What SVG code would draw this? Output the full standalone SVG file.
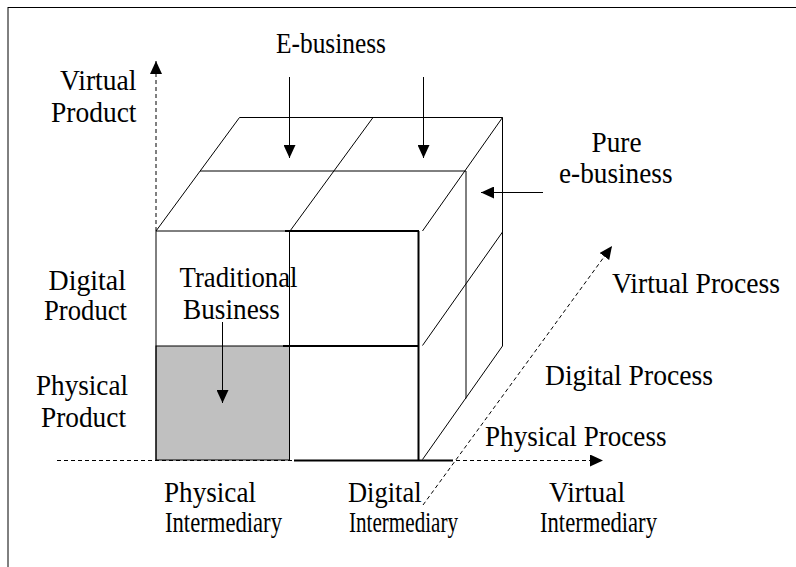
<svg xmlns="http://www.w3.org/2000/svg" width="796" height="567" viewBox="0 0 796 567">
  <defs>
    <style>
      .edge { stroke: #000; stroke-width: 1; fill: none; }
      .bold { stroke: #000; stroke-width: 2; fill: none; }
      .dash { stroke: #000; stroke-width: 1; fill: none; stroke-dasharray: 4 3; }
      .lbl { font-family: "Liberation Serif", "Times New Roman", serif; font-size: 29px; fill: #000; }
    </style>
    <marker id="head" viewBox="0 0 13 12" refX="13" refY="6" markerWidth="13" markerHeight="12" markerUnits="userSpaceOnUse" orient="auto">
      <path d="M0,0 L13,6 L0,12 z" fill="#000"/>
    </marker>
  </defs>

  <rect width="796" height="567" fill="#fff"/>

  <!-- page frame: top and left rules -->
  <g id="frame">
    <line class="edge" x1="8" y1="7.5" x2="796" y2="7.5" stroke-width="1.5"/>
    <line class="edge" x1="8" y1="7" x2="8" y2="567" stroke-width="1.5"/>
  </g>

  <!-- axes -->
  <g id="axes">
    <line class="dash" x1="57" y1="460.5" x2="603" y2="460.5" marker-end="url(#head)"/>
    <line class="dash" x1="156" y1="231" x2="156" y2="61" marker-end="url(#head)"/>
    <line class="dash" x1="423" y1="505" x2="612" y2="246" marker-end="url(#head)"/>
  </g>

  <!-- cube -->
  <g id="front-face">
    <rect x="156" y="346" width="133.5" height="114" fill="#c0c0c0" stroke="#000" stroke-width="1"/>
    <line class="edge" x1="156" y1="231" x2="156" y2="460"/>
    <line class="edge" x1="156" y1="231" x2="290" y2="231"/>
    <line class="bold" x1="285" y1="231" x2="419" y2="231" stroke-width="1.5"/>
    <line class="edge" x1="289.5" y1="231" x2="289.5" y2="460"/>
    <line class="bold" x1="418.5" y1="231" x2="418.5" y2="460"/>
    <line class="bold" x1="283" y1="346" x2="418" y2="346" stroke-width="1.5"/>
    <line class="bold" x1="294" y1="460.5" x2="453" y2="460.5"/>
  </g>

  <g id="top-face">
    <line class="edge" x1="239.5" y1="117.5" x2="502.5" y2="117.5"/>
    <line class="edge" x1="200" y1="171" x2="466" y2="171"/>
    <line class="edge" x1="156" y1="231" x2="239.5" y2="117.5"/>
    <line class="edge" x1="290" y1="231" x2="373" y2="117.5"/>
    <line class="edge" x1="422.5" y1="231" x2="502.5" y2="117.5"/>
  </g>

  <g id="side-face">
    <line class="edge" x1="502.5" y1="117.5" x2="502.5" y2="346"/>
    <line class="edge" x1="466" y1="171" x2="466" y2="398.5"/>
    <line class="edge" x1="422.5" y1="345.5" x2="502.5" y2="232"/>
    <line class="edge" x1="422.5" y1="459.5" x2="502.5" y2="346"/>
  </g>

  <!-- pointer arrows -->
  <g id="pointers">
    <line class="edge" x1="289.5" y1="77" x2="289.5" y2="158" marker-end="url(#head)"/>
    <line class="edge" x1="423.5" y1="77" x2="423.5" y2="158" marker-end="url(#head)"/>
    <line class="edge" x1="543" y1="192.5" x2="481" y2="192.5" marker-end="url(#head)"/>
    <line class="edge" x1="222.5" y1="322" x2="222.5" y2="403" marker-end="url(#head)"/>
  </g>

  <!-- labels -->
  <g id="label-ebusiness">
    <text class="lbl" x="276" y="53" textLength="110" lengthAdjust="spacingAndGlyphs">E-business</text>
  </g>
  <g id="label-pure">
    <text class="lbl" x="591.5" y="151.5" textLength="50" lengthAdjust="spacingAndGlyphs">Pure</text>
    <text class="lbl" x="559" y="183" textLength="113.5" lengthAdjust="spacingAndGlyphs">e-business</text>
  </g>
  <g id="label-traditional">
    <text class="lbl" x="179.5" y="286.5" textLength="118" lengthAdjust="spacingAndGlyphs">Traditional</text>
    <text class="lbl" x="183" y="319" textLength="97" lengthAdjust="spacingAndGlyphs">Business</text>
  </g>
  <g id="label-virtual-product">
    <text class="lbl" x="60" y="90" textLength="76.5" lengthAdjust="spacingAndGlyphs">Virtual</text>
    <text class="lbl" x="51" y="121.5" textLength="85.5" lengthAdjust="spacingAndGlyphs">Product</text>
  </g>
  <g id="label-digital-product">
    <text class="lbl" x="48.5" y="290" textLength="77.5" lengthAdjust="spacingAndGlyphs">Digital</text>
    <text class="lbl" x="44" y="320" textLength="83" lengthAdjust="spacingAndGlyphs">Product</text>
  </g>
  <g id="label-physical-product">
    <text class="lbl" x="36" y="395" textLength="92" lengthAdjust="spacingAndGlyphs">Physical</text>
    <text class="lbl" x="41" y="427" textLength="85" lengthAdjust="spacingAndGlyphs">Product</text>
  </g>
  <g id="label-virtual-process">
    <text class="lbl" x="612" y="293" textLength="168" lengthAdjust="spacingAndGlyphs">Virtual Process</text>
  </g>
  <g id="label-digital-process">
    <text class="lbl" x="545" y="385" textLength="168" lengthAdjust="spacingAndGlyphs">Digital Process</text>
  </g>
  <g id="label-physical-process">
    <text class="lbl" x="485" y="446" textLength="181.5" lengthAdjust="spacingAndGlyphs">Physical Process</text>
  </g>
  <g id="label-physical-intermediary">
    <text class="lbl" x="164" y="501.5" textLength="92" lengthAdjust="spacingAndGlyphs">Physical</text>
    <text class="lbl" x="165" y="532" textLength="117" lengthAdjust="spacingAndGlyphs">Intermediary</text>
  </g>
  <g id="label-digital-intermediary">
    <text class="lbl" x="348" y="501.5" textLength="73.5" lengthAdjust="spacingAndGlyphs">Digital</text>
    <text class="lbl" x="349" y="532" textLength="109" lengthAdjust="spacingAndGlyphs">Intermediary</text>
  </g>
  <g id="label-virtual-intermediary">
    <text class="lbl" x="549" y="501.5" textLength="76" lengthAdjust="spacingAndGlyphs">Virtual</text>
    <text class="lbl" x="540" y="532" textLength="117" lengthAdjust="spacingAndGlyphs">Intermediary</text>
  </g>
</svg>
